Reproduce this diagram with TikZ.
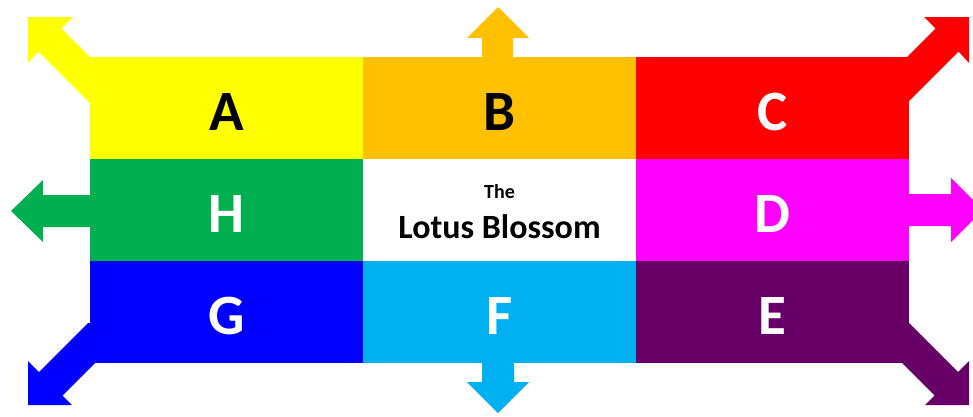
\documentclass[tikz,border=0pt]{standalone}
\usepackage{fontspec}
\setmainfont{Carlito}
\definecolor{cA}{HTML}{FFFF00}
\definecolor{cB}{HTML}{FFC000}
\definecolor{cC}{HTML}{FF0000}
\definecolor{cD}{HTML}{FF00FF}
\definecolor{cE}{HTML}{660066}
\definecolor{cF}{HTML}{00B0F0}
\definecolor{cG}{HTML}{0000FF}
\definecolor{cH}{HTML}{00B050}
\begin{document}
\begin{tikzpicture}[x=1pt,y=-1pt,
  cell/.style={minimum width=273pt,minimum height=102pt,inner sep=0pt,outer sep=0pt,
    text height=44pt,text depth=0pt,
    font=\fontsize{57}{57}\selectfont\bfseries},
  dark/.style={cell,text=black},
  light/.style={cell,text=white},
  title/.style={inner sep=0pt,anchor=base,font=\bfseries}]
\useasboundingbox (0,0) rectangle (973,416);
\begin{scope}
\clip (0,0) rectangle (973,416);
% corner and side arrows
\fill[cA] (120,100) -- (90,103) -- (38.5,51.5) -- (28,63) -- (28,17) -- (73,17) -- (61.5,28.5) -- (91,58) -- (120,58) -- cycle;
\fill[cC] (877,100) -- (907,103) -- (958.5,51.5) -- (969,63) -- (969,17) -- (924,17) -- (935.5,28.5) -- (906,58) -- (877,58) -- cycle;
\fill[cG] (120,323) -- (88,323) -- (39,372) -- (28,361) -- (28,405) -- (72,405) -- (62.5,395.5) -- (96,362) -- (120,362) -- cycle;
\fill[cE] (877,323) -- (909,323) -- (958,372) -- (969,361) -- (969,405) -- (925,405) -- (934.5,395.5) -- (901,362) -- (877,362) -- cycle;
\fill[cB] (482,70) -- (482,38) -- (467,38) -- (498,7) -- (529,38) -- (513,38) -- (513,70) -- cycle;
\fill[cF] (482,350) -- (482,382) -- (467,382) -- (498,413) -- (529,382) -- (514,382) -- (514,350) -- cycle;
\fill[cH] (100,195) -- (43,195) -- (43,180) -- (11,211) -- (43,242) -- (43,227) -- (100,227) -- cycle;
\fill[cD] (895,194) -- (951,194) -- (951,178) -- (983,210) -- (951,242) -- (951,226) -- (895,226) -- cycle;
\end{scope}
% grid cells
\node[dark,fill=cA]  (A) at (226.5,108) {A};
\node[dark,fill=cB]  (B) at (499.5,108) {B};
\node[light,fill=cC] (C) at (772.5,108) {C};
\node[light,fill=cH] (H) at (226.5,210) {H};
\node[cell,fill=white] (M) at (499.5,210) {};
\node[light,fill=cD] (D) at (772.5,210) {D};
\node[light,fill=cG] (G) at (226.5,312) {G};
\node[light,fill=cF] (F) at (499.5,312) {F};
\node[light,fill=cE] (E) at (772.5,312) {E};
\node[title,font=\bfseries\fontsize{20}{20}\selectfont] (the) at (499.5,198) {The};
\node[title,font=\bfseries\fontsize{34}{34}\selectfont] (lotus) at (499.5,238) {Lotus Blossom};
\end{tikzpicture}
\end{document}
